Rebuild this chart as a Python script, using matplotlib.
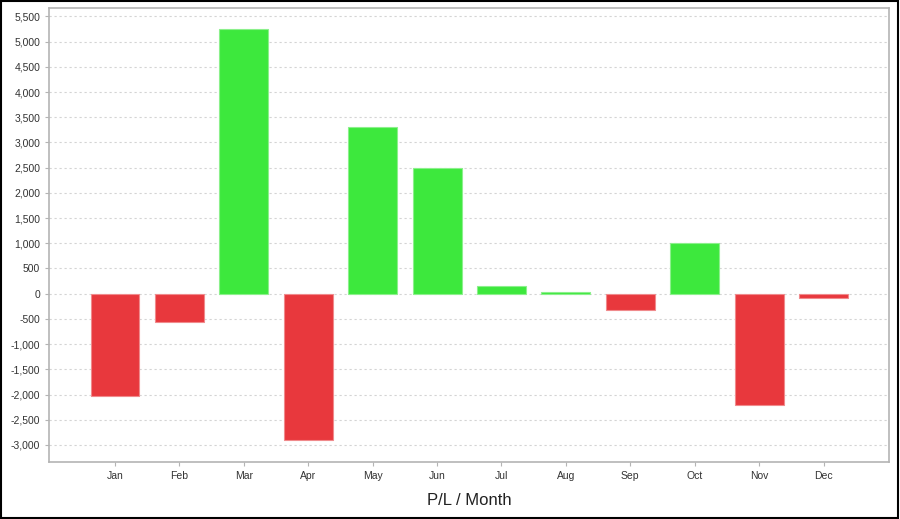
import numpy as np
import matplotlib
matplotlib.use("Agg")
import matplotlib.pyplot as plt
from matplotlib.ticker import FuncFormatter, MultipleLocator
from matplotlib.patches import Rectangle

plt.rcParams['font.family'] = ['Liberation Sans', 'DejaVu Sans']

months = ['Jan', 'Feb', 'Mar', 'Apr', 'May', 'Jun', 'Jul', 'Aug', 'Sep', 'Oct', 'Nov', 'Dec']
pl = [-2030, -560, 5260, -2900, 3310, 2495, 150, 40, -320, 1000, -2210, -90]

fig = plt.figure(figsize=(9, 5.19), dpi=100)
ax = fig.add_axes([0.0548, 0.1104, 0.9332, 0.8736])

x = np.arange(len(months))
colors = ['#3de83d' if v >= 0 else '#e8383d' for v in pl]
edges = ['#8cf08c' if v >= 0 else '#f08a8c' for v in pl]
ax.bar(x, pl, width=0.76, color=colors, edgecolor=edges, linewidth=0.8, zorder=3)

ax.set_xlim(-1.02, 12.02)
ax.set_ylim(-3333, 5662)
ax.yaxis.set_major_locator(MultipleLocator(500))
ax.yaxis.set_major_formatter(FuncFormatter(lambda v, p: f"{int(v):,}"))
ax.set_xticks(x)
ax.set_xticklabels(months)
ax.grid(axis='y', color='#d4d4d4', linestyle=(0, (2, 2.5)), linewidth=0.8, zorder=0)

for s in ax.spines.values():
    s.set_color('#b4b4b4')
    s.set_linewidth(1.2)
ax.tick_params(axis='both', labelsize=7.5, colors='#b4b4b4', labelcolor='#333333', length=3)
ax.tick_params(axis='x', pad=4)

ax.set_xlabel('P/L / Month', fontsize=12, color='#222222', labelpad=8)

fig.patches.append(Rectangle((0.001, 0.002), 0.997, 0.996, transform=fig.transFigure,
                             fill=False, edgecolor='black', linewidth=1.5))

fig.savefig('out.png', dpi=100)
